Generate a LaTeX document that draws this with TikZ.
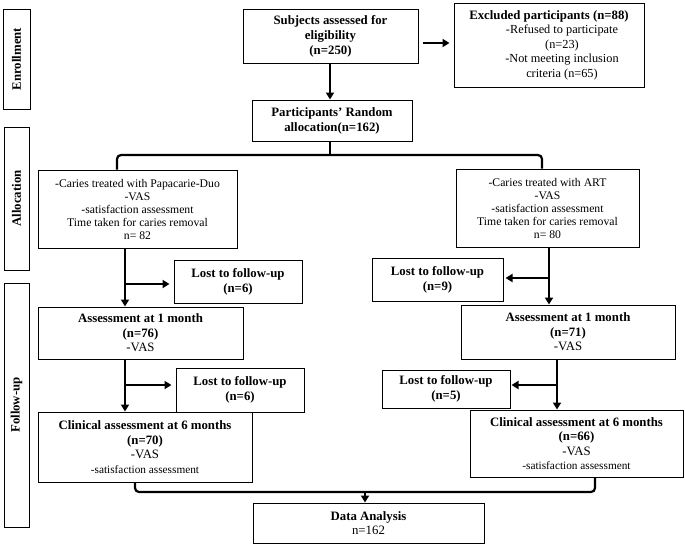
\documentclass[tikz,border=0pt]{standalone}
\usepackage{fontspec}
\setmainfont{Liberation Serif}
\usetikzlibrary{arrows.meta}

\begin{document}
\begin{tikzpicture}[x=1pt,y=-1pt,
  box/.style={draw,line width=1pt,align=center,inner sep=0pt,font=\fontsize{12.8}{14.5}\selectfont},
  bbox/.style={box,font=\bfseries\fontsize{12.8}{15}\selectfont},
  small/.style={box,font=\fontsize{11.7}{13}\selectfont},
  phase/.style={draw,line width=1pt,rotate=90,inner sep=0pt,font=\bfseries\fontsize{12.8}{14}\selectfont},
  arr/.style={line width=2.2pt,-{Triangle[length=7pt,width=8pt]}},
  brace/.style={line width=2.2pt,rounded corners=4pt}]
\useasboundingbox (0,0) rectangle (685,544);
\node[phase,minimum width=100pt,minimum height=27pt] (enr) at (16.5,59) {Enrollment};
\node[phase,minimum width=143pt,minimum height=25pt] (alc) at (16.5,198.5) {Allocation};
\node[phase,minimum width=244pt,minimum height=25pt] (fup) at (16.5,405) {Follow-up};
\node[bbox,minimum width=175pt,minimum height=54pt] (subj) at (330.5,36) {Subjects assessed for\\eligibility\\(n=250)};
\node[box,minimum width=190pt,minimum height=84pt,font=\fontsize{12.3}{14.5}\selectfont] (excl) at (549,45)
  {\textbf{\fontsize{12.8}{14.5}\selectfont Excluded participants (n=88)}\\\hspace*{26pt}-Refused to participate\\\hspace*{26pt}(n=23)\\\hspace*{26pt}-Not meeting inclusion\\\hspace*{26pt}criteria (n=65)};
\node[bbox,minimum width=160pt,minimum height=41pt] (rand) at (332,120.5) {Participants’ Random\\allocation(n=162)};
\node[small,minimum width=199pt,minimum height=78pt] (papa) at (137.5,209)
  {-Caries treated with Papacarie-Duo\\-VAS\\-satisfaction assessment\\Time taken for caries removal\\n= 82};
\node[small,minimum width=183pt,minimum height=78pt] (art) at (547.5,208)
  {-Caries treated with ART\\-VAS\\-satisfaction assessment\\Time taken for caries removal\\n= 80};
\node[bbox,minimum width=128pt,minimum height=43pt] (lostA) at (238,281.5) {Lost to follow-up\\(n=6)};
\node[bbox,minimum width=131pt,minimum height=43pt] (lostB) at (437.5,279.5) {Lost to follow-up\\(n=9)};
\node[box,minimum width=205pt,minimum height=52pt] (monA) at (140.5,333) {\textbf{Assessment at 1 month}\\\textbf{(n=76)}\\-VAS};
\node[box,minimum width=214pt,minimum height=54pt] (monB) at (568,332) {\textbf{Assessment at 1 month}\\\textbf{(n=71)}\\-VAS};
\node[bbox,minimum width=128pt,minimum height=44pt] (lostC) at (240,390) {Lost to follow-up\\(n=6)};
\node[bbox,minimum width=128pt,minimum height=38pt] (lostD) at (446,389) {Lost to follow-up\\(n=5)};
\node[box,minimum width=214pt,minimum height=70pt] (clinA) at (145,447)
  {\textbf{Clinical assessment at 6 months}\\\textbf{(n=70)}\\-VAS\\{\fontsize{11.3}{12.5}\selectfont -satisfaction assessment}};
\node[box,minimum width=213pt,minimum height=67pt] (clinB) at (576.5,443.5)
  {\textbf{Clinical assessment at 6 months}\\\textbf{(n=66)}\\-VAS\\{\fontsize{11.3}{12.5}\selectfont -satisfaction assessment}};
\node[box,minimum width=231pt,minimum height=40pt] (data) at (368.5,523) {\textbf{Data Analysis}\\n=162};
\coordinate (e1) at ([yshift=-7pt]subj.east);
\draw[arr,shorten <=4pt,shorten >=4pt] (e1) -- (e1 -| excl.west);
\draw[arr] (subj.south -| 330,0) -- (rand.north -| 330,0);
\draw[brace] (rand.south -| 330,0) -- (330,155);
\draw[brace] (papa.north -| 117,0) -- (117,155) -- (542,155) -- (art.north -| 542,0);
\coordinate (bA) at (125,284);
\coordinate (bB) at (549,278);
\coordinate (bC) at (125,385);
\coordinate (bD) at (557,385);
\draw[arr] (papa.south -| bA) -- (monA.north -| bA);
\draw[arr,shorten >=4pt] (bA) -- (bA -| lostA.west);
\draw[arr] (art.south -| bB) -- (monB.north -| bB);
\draw[arr,shorten >=2pt] (bB) -- (bB -| lostB.east);
\draw[arr] (monA.south -| bC) -- (clinA.north -| bC);
\draw[arr,shorten >=4pt] (bC) -- (bC -| lostC.west);
\draw[arr] (monB.south -| bD) -- (clinB.north -| bD);
\draw[arr,shorten >=1pt] (bD) -- (bD -| lostD.east);
\draw[brace] (clinA.south -| 135,0) -- (135,492) -- (595,492) -- (clinB.south -| 595,0);
\draw[arr] (365,492) -- (data.north -| 365,0);
\end{tikzpicture}
\end{document}
